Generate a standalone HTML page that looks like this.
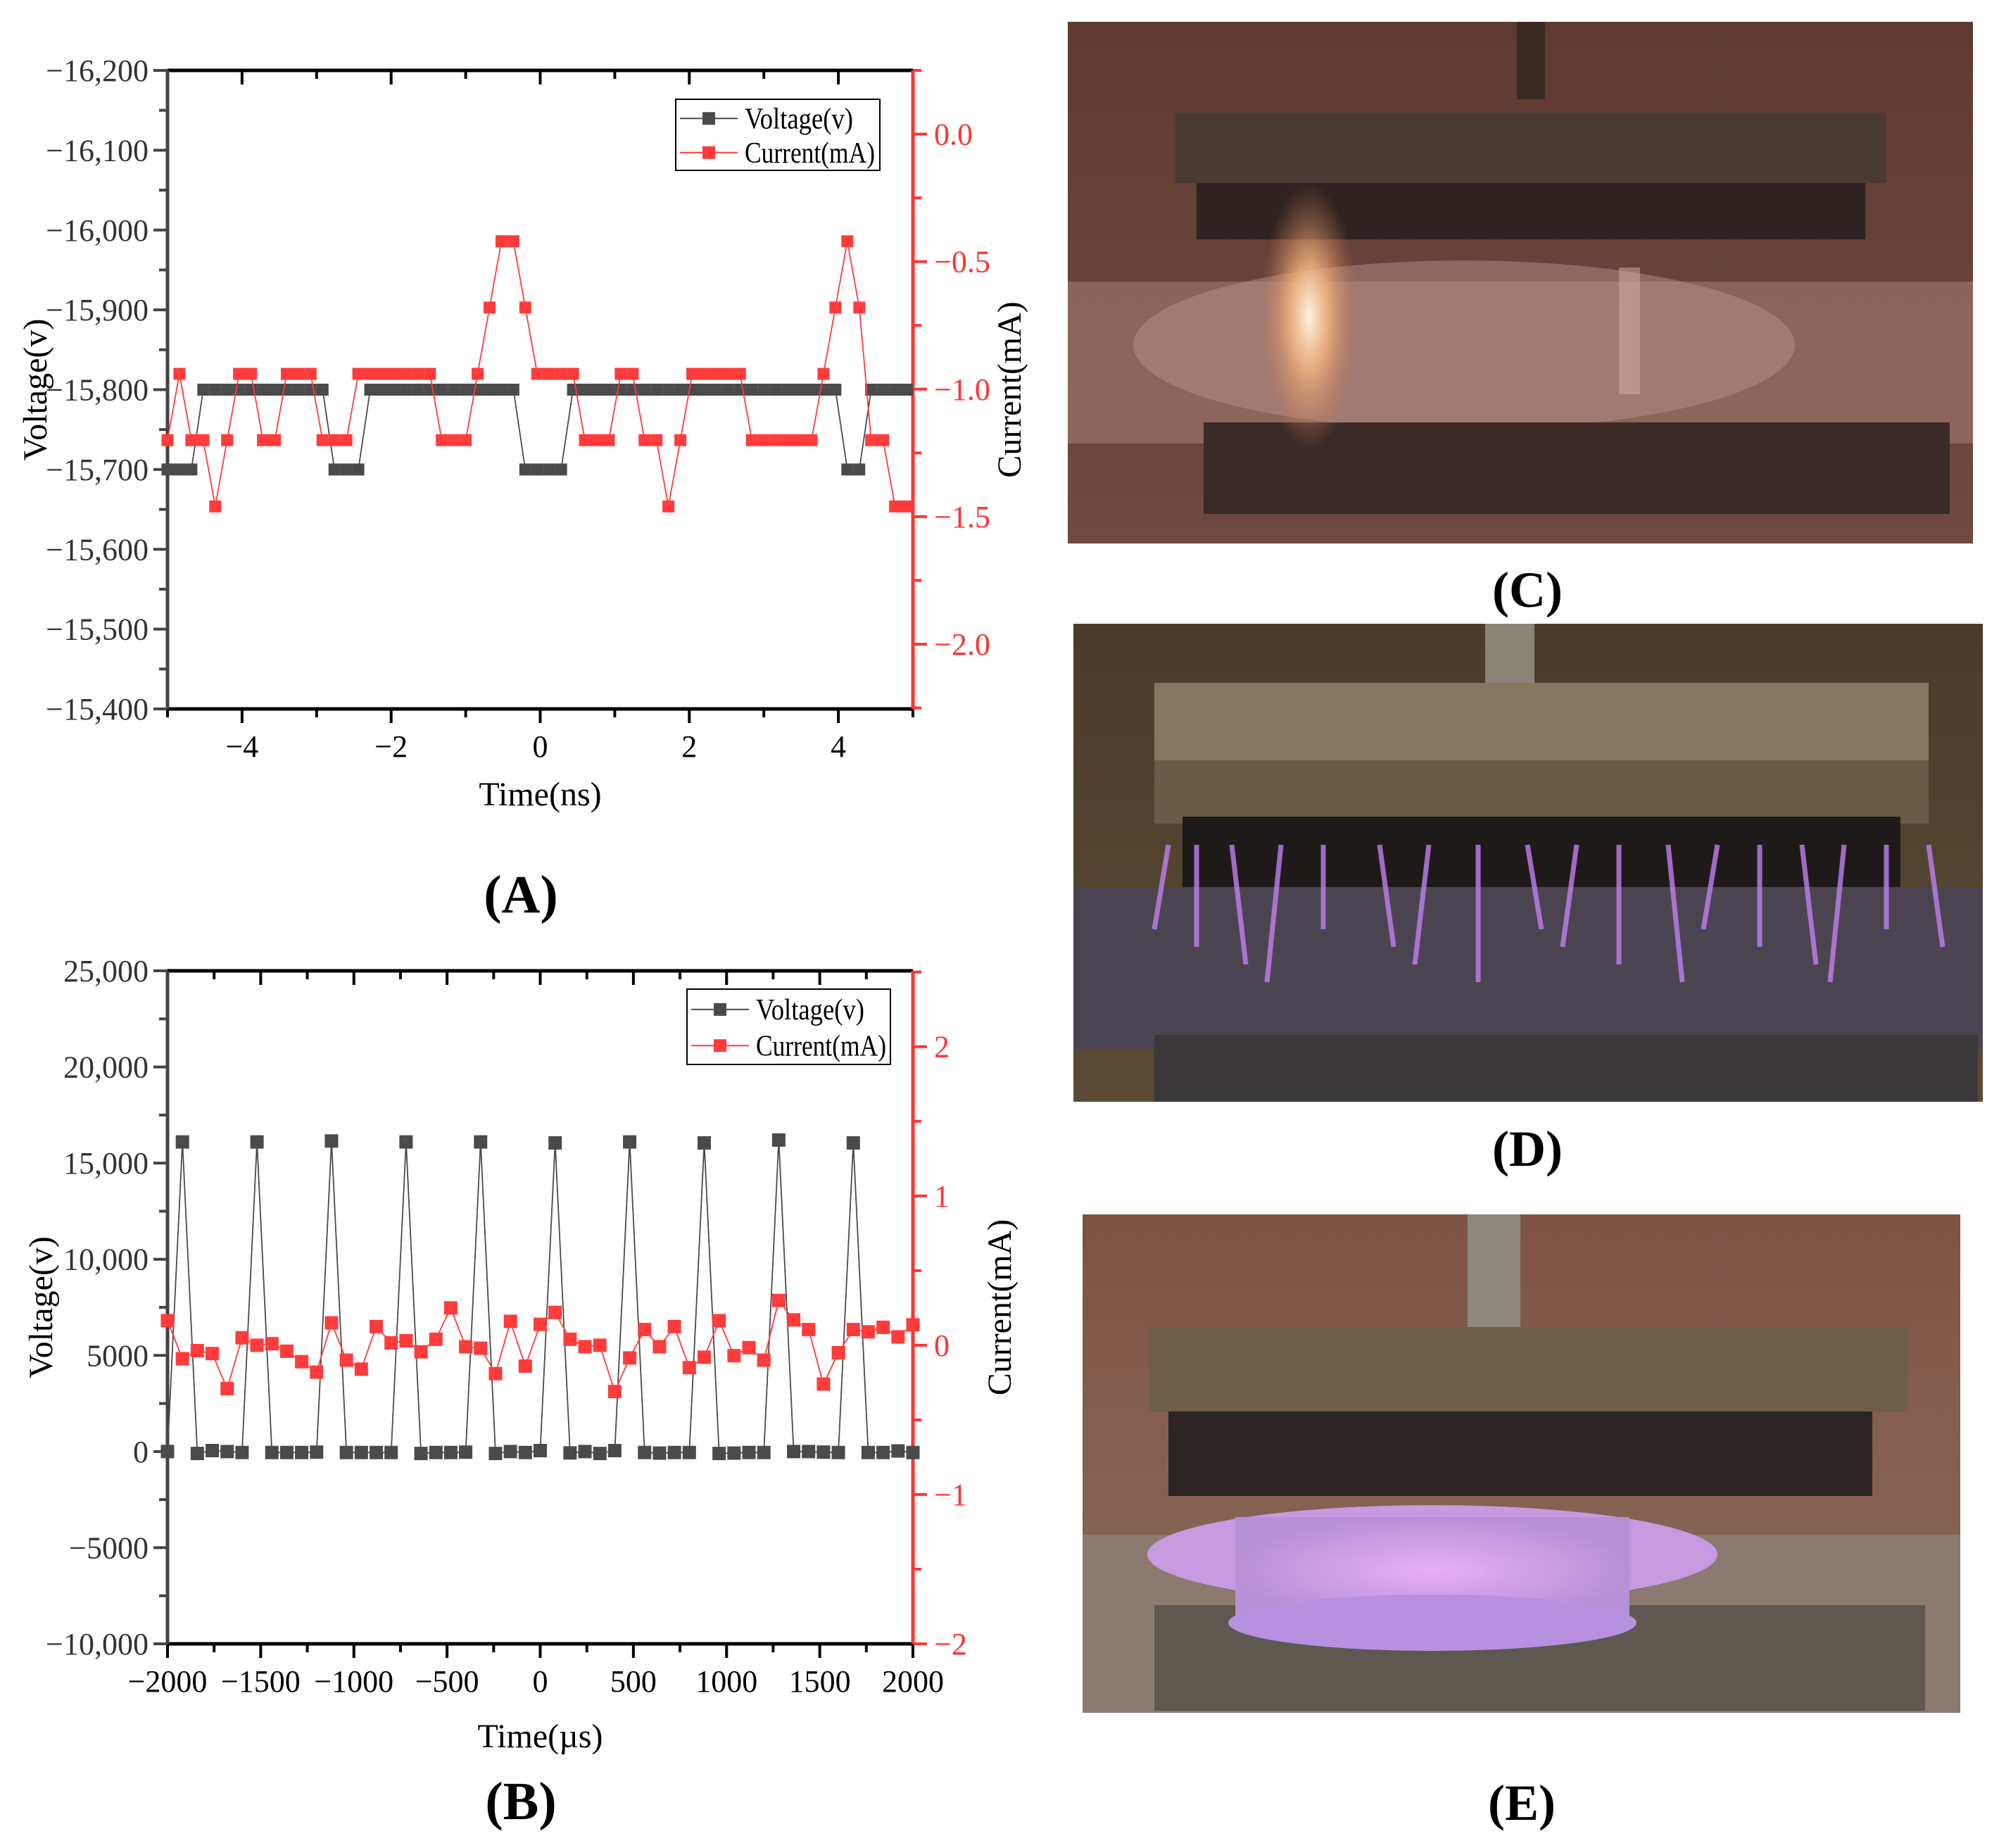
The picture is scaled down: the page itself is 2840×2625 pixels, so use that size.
<!DOCTYPE html>
<html><head><meta charset="utf-8">
<style>
html,body{margin:0;padding:0;background:#fff;}
svg{display:block;}
text{font-family:"Liberation Serif",serif;}
</style></head>
<body>
<svg id="fig" width="2840" height="2625" viewBox="0 0 2840 2625" xmlns="http://www.w3.org/2000/svg">
<defs>
<linearGradient id="gC" x1="0" y1="0" x2="0" y2="1"><stop offset="0" stop-color="#5e3a30"/><stop offset="1" stop-color="#6e4a40"/></linearGradient>
<radialGradient id="glowC" cx="0.5" cy="0.5" r="0.5"><stop offset="0" stop-color="#fff6e0"/><stop offset="0.4" stop-color="#f8b880" stop-opacity="0.8"/><stop offset="1" stop-color="#c07050" stop-opacity="0"/></radialGradient>
<linearGradient id="gD" x1="0" y1="0" x2="0" y2="1"><stop offset="0" stop-color="#4a3c28"/><stop offset="1" stop-color="#5a4a36"/></linearGradient>
<linearGradient id="gE" x1="0" y1="0" x2="0" y2="1"><stop offset="0" stop-color="#7e5444"/><stop offset="1" stop-color="#8a6a5a"/></linearGradient>
<radialGradient id="glowE" cx="0.5" cy="0.5" r="0.5"><stop offset="0" stop-color="#e8b0f8"/><stop offset="1" stop-color="#b890d8"/></radialGradient>
</defs>

<g>
<rect x="1517" y="31" width="1286" height="741" fill="url(#gC)"/>
<rect x="2155" y="31" width="40" height="110" fill="#3a2a26"/>
<rect x="1670" y="160" width="1010" height="100" fill="#4a3a34"/>
<rect x="1700" y="260" width="950" height="80" fill="#2e2220"/>
<rect x="1517" y="400" width="1286" height="230" fill="#9a7468" opacity="0.7"/>
<ellipse cx="2080" cy="490" rx="470" ry="120" fill="#b89088" opacity="0.5"/>
<rect x="1710" y="600" width="1060" height="130" fill="#3a2a28"/>
<ellipse cx="1860" cy="450" rx="70" ry="190" fill="url(#glowC)"/>
<rect x="2300" y="380" width="30" height="180" fill="#d8b0a0" opacity="0.5"/>
</g>
<text x="2170" y="862" font-size="72" font-weight="bold" text-anchor="middle">(C)</text>

<g>
<rect x="1525" y="886" width="1292" height="679" fill="url(#gD)"/>
<rect x="2110" y="886" width="70" height="140" fill="#8a8478"/>
<rect x="1640" y="970" width="1100" height="110" fill="#857660"/>
<rect x="1640" y="1080" width="1100" height="90" fill="#6a5a46"/>
<rect x="1680" y="1160" width="1020" height="100" fill="#1e1a1a"/>
<rect x="1525" y="1260" width="1292" height="230" fill="#4a4450"/>
<rect x="1640" y="1470" width="1170" height="95" fill="#3a3838"/>
<g id="dStreaks" stroke="#c080f0" stroke-width="7" opacity="0.8"></g>
</g>
<text x="2170" y="1656" font-size="72" font-weight="bold" text-anchor="middle">(D)</text>

<g>
<rect x="1538" y="1725" width="1247" height="708" fill="url(#gE)"/>
<rect x="2085" y="1725" width="75" height="170" fill="#8c8880"/>
<rect x="1632" y="1885" width="1078" height="120" fill="#6e5e48"/>
<rect x="1660" y="2005" width="1000" height="120" fill="#2a2424"/>
<rect x="1538" y="2180" width="1247" height="253" fill="#8a7a70"/>
<rect x="1640" y="2280" width="1095" height="150" fill="#5e5850"/>
<ellipse cx="2035" cy="2208" rx="405" ry="70" fill="#c89ae0"/>
<rect x="1755" y="2155" width="560" height="150" fill="url(#glowE)"/>
<ellipse cx="2035" cy="2305" rx="290" ry="40" fill="#b890e0"/>
</g>
<text x="2162" y="2585" font-size="72" font-weight="bold" text-anchor="middle">(E)</text>

<g id="chartA"></g>
<g id="chartB"></g>
</svg>
<script>
// ---------- Chart A data ----------
var aTimeStart = -5, aTimeStep = 0.16;
var aVoltage = [-15700,-15700,-15700,-15800,-15800,-15800,-15800,-15800,-15800,-15800,-15800,-15800,-15800,-15800,-15700,-15700,-15700,-15800,-15800,-15800,-15800,-15800,-15800,-15800,-15800,-15800,-15800,-15800,-15800,-15800,-15700,-15700,-15700,-15700,-15800,-15800,-15800,-15800,-15800,-15800,-15800,-15800,-15800,-15800,-15800,-15800,-15800,-15800,-15800,-15800,-15800,-15800,-15800,-15800,-15800,-15800,-15800,-15700,-15700,-15800,-15800,-15800,-15800];
var aCurrent = [-1.2,-0.94,-1.2,-1.2,-1.46,-1.2,-0.94,-0.94,-1.2,-1.2,-0.94,-0.94,-0.94,-1.2,-1.2,-1.2,-0.94,-0.94,-0.94,-0.94,-0.94,-0.94,-0.94,-1.2,-1.2,-1.2,-0.94,-0.68,-0.42,-0.42,-0.68,-0.94,-0.94,-0.94,-0.94,-1.2,-1.2,-1.2,-0.94,-0.94,-1.2,-1.2,-1.46,-1.2,-0.94,-0.94,-0.94,-0.94,-0.94,-1.2,-1.2,-1.2,-1.2,-1.2,-1.2,-0.94,-0.68,-0.42,-0.68,-1.2,-1.2,-1.46,-1.46];
var aXTicks = [-4,-2,0,2,4];
var aXTickLabels = ["\u22124","\u22122","0","2","4"];
var aYTicks = [-16200,-16100,-16000,-15900,-15800,-15700,-15600,-15500,-15400];
var aYTickLabels = ["\u221216,200","\u221216,100","\u221216,000","\u221215,900","\u221215,800","\u221215,700","\u221215,600","\u221215,500","\u221215,400"];
var aY2Ticks = [0,-0.5,-1,-1.5,-2];
var aY2TickLabels = ["0.0","\u22120.5","\u22121.0","\u22121.5","\u22122.0"];

// ---------- Chart B data ----------
var bTimeStart = -2000, bTimeStep = 80;
var bVoltage = [0,16100,-100,50,0,-50,16100,-50,-50,-50,-30,16150,-50,-50,-50,-50,16100,-100,-50,-50,-30,16100,-100,0,-50,50,16050,-70,0,-100,50,16100,-50,-80,-50,-50,16050,-100,-80,-50,-50,16200,0,0,-30,-50,16050,-50,-50,30,-50];
var bCurrent = [0.165,-0.09,-0.036,-0.056,-0.29,0.05,0.0,0.01,-0.04,-0.11,-0.18,0.15,-0.1,-0.16,0.125,0.016,0.03,-0.044,0.04,0.25,-0.01,-0.02,-0.19,0.16,-0.14,0.14,0.22,0.04,-0.01,0.0,-0.31,-0.085,0.105,-0.01,0.125,-0.15,-0.08,0.165,-0.07,-0.016,-0.1,0.3,0.17,0.105,-0.26,-0.05,0.105,0.09,0.12,0.056,0.137];
var bXTicks = [-2000,-1500,-1000,-500,0,500,1000,1500,2000];
var bXTickLabels = ["\u22122000","\u22121500","\u22121000","\u2212500","0","500","1000","1500","2000"];
var bYTicks = [25000,20000,15000,10000,5000,0,-5000,-10000];
var bYTickLabels = ["25,000","20,000","15,000","10,000","5000","0","\u22125000","\u221210,000"];
var bY2Ticks = [2,1,0,-1,-2];
var bY2TickLabels = ["2","1","0","\u22121","\u22122"];

var NS = "http://www.w3.org/2000/svg";
function mk(parent, tag, attrs, txt){
  var e = document.createElementNS(NS, tag);
  for (var k in attrs) e.setAttribute(k, attrs[k]);
  if (txt !== undefined) e.textContent = txt;
  parent.appendChild(e);
  return e;
}

function drawChart(g, cfg){
  var L=cfg.L,R=cfg.R,T=cfg.T,B=cfg.B;
  function xs(v){return L+(v-cfg.x0)/(cfg.x1-cfg.x0)*(R-L);}
  function ys(v){return T+(v-cfg.y0)/(cfg.y1-cfg.y0)*(B-T);}
  function ys2(v){return T+(v-cfg.r0)/(cfg.r1-cfg.r0)*(B-T);}
  var i, e, v, x, y;
  for (v=cfg.x0; v<=cfg.x1+1e-9; v+=cfg.xMinor){
    x=xs(v);
    var major = Math.abs(v/cfg.xMajor-Math.round(v/cfg.xMajor))<1e-6;
    var len = major?20:12;
    e=mk(g,'line',{x1:x,y1:B,x2:x,y2:B+len,stroke:'#000','stroke-width':4});
    
    
    e=mk(g,'line',{x1:x,y1:T,x2:x,y2:T+len,stroke:'#000','stroke-width':4});
    
    
  }
  for (i=0;i<cfg.xTicks.length;i++){
    e=mk(g,'text',{x:xs(cfg.xTicks[i]),y:B+68,'font-size':44,'text-anchor':'middle',fill:'#000'},cfg.xTickLabels[i]);
    
    
  }
  for (v=Math.min(cfg.y0,cfg.y1); v<=Math.max(cfg.y0,cfg.y1)+1e-9; v+=cfg.yMinor){
    y=ys(v);
    var maj = Math.abs(v/cfg.yMajor-Math.round(v/cfg.yMajor))<1e-6;
    e=mk(g,'line',{x1:L,y1:y,x2:L-(maj?20:12),y2:y,stroke:'#444','stroke-width':4});
    
    
  }
  for (i=0;i<cfg.yTicks.length;i++){
    e=mk(g,'text',{x:L-27,y:ys(cfg.yTicks[i])+15,'font-size':44,'text-anchor':'end',fill:'#333'},cfg.yTickLabels[i]);
    
    
  }
  for (v=Math.min(cfg.r0,cfg.r1); v<=Math.max(cfg.r0,cfg.r1)+1e-9; v+=cfg.rMinor){
    var rr = Math.round(v/cfg.rMinor)*cfg.rMinor;
    if (rr<Math.min(cfg.r0,cfg.r1)-1e-9) continue;
    y=ys2(rr);
    var mj = Math.abs(rr/cfg.rMajor-Math.round(rr/cfg.rMajor))<1e-6;
    e=mk(g,'line',{x1:R,y1:y,x2:R+(mj?20:12),y2:y,stroke:'#ff3333','stroke-width':4});
    
    
  }
  for (i=0;i<cfg.y2Ticks.length;i++){
    e=mk(g,'text',{x:R+30,y:ys2(cfg.y2Ticks[i])+15,'font-size':44,'text-anchor':'start',fill:'#ff3333'},cfg.y2TickLabels[i]);
    
    
  }
  e=mk(g,'line',{x1:L,y1:T,x2:R,y2:T,stroke:'#000','stroke-width':5});
  
  
  e=mk(g,'line',{x1:L,y1:B,x2:R,y2:B,stroke:'#000','stroke-width':5});
  
  
  e=mk(g,'line',{x1:L,y1:T,x2:L,y2:B,stroke:'#444','stroke-width':5});
  
  
  e=mk(g,'line',{x1:R,y1:T,x2:R,y2:B,stroke:'#ff3333','stroke-width':5});
  
  
  function series(vals, scale, color, name){
    var pts=[];
    for (var j=0;j<vals.length;j++){pts.push(xs(cfg.t0+j*cfg.dt).toFixed(1)+','+scale(vals[j]).toFixed(1));}
    var pl=mk(g,'polyline',{points:pts.join(' '),fill:'none',stroke:color,'stroke-width':1.8});
    
    
    var s=cfg.ms;
    for (j=0;j<vals.length;j++){
      var r=mk(g,'rect',{x:xs(cfg.t0+j*cfg.dt)-s/2,y:scale(vals[j])-s/2,width:s,height:s,fill:color});
      
      
    }
  }
  series(cfg.volt, ys, '#4a4a4a', 'voltage');
  series(cfg.curr, ys2, '#ff3b3b', 'current');
  e=mk(g,'text',{x:(L+R)/2,y:cfg.xTitleY,'font-size':48,'text-anchor':'middle',fill:'#000'},cfg.xTitle);
  
  
  e=mk(g,'text',{x:0,y:0,'font-size':48,'text-anchor':'middle',fill:'#000',transform:'translate('+cfg.yTitleX+','+((T+B)/2)+') rotate(-90)'},'Voltage(v)');
  
  
  e=mk(g,'text',{x:0,y:0,'font-size':48,'text-anchor':'middle',fill:'#000',transform:'translate('+cfg.y2TitleX+','+((T+B)/2)+') rotate(-90)'},'Current(mA)');
  
  
  var lg=cfg.leg;
  var box=mk(g,'rect',{x:lg.x,y:lg.y,width:lg.w,height:lg.h,fill:'#fff',stroke:'#000','stroke-width':2});
  
  
  var rows=[['Voltage(v)','#4a4a4a',154],['Current(mA)','#ff3b3b',185]];
  for (i=0;i<2;i++){
    var ry=lg.y+lg.h*(0.27+0.48*i);
    e=mk(g,'line',{x1:lg.x+6,y1:ry,x2:lg.x+88,y2:ry,stroke:rows[i][1],'stroke-width':2});
    
    
    e=mk(g,'rect',{x:lg.x+47-9,y:ry-9,width:18,height:18,fill:rows[i][1]});
    
    
    e=mk(g,'text',{x:lg.x+98,y:ry+14,'font-size':42,fill:'#000',textLength:rows[i][2],lengthAdjust:'spacingAndGlyphs'},rows[i][0]);
    
    
  }
  e=mk(g,'text',{x:cfg.labX,y:cfg.labY,'font-size':76,'font-weight':'bold','text-anchor':'middle',fill:'#000'},cfg.label);
  
  
}

drawChart(document.getElementById('chartA'),{
  L:238,R:1297,T:100,B:1007,x0:-5,x1:5,y0:-16200,y1:-15400,r0:0.25,r1:-2.254,
  xMajor:2,xMinor:1,yMajor:100,yMinor:50,rMajor:0.5,rMinor:0.25,
  xTicks:aXTicks,xTickLabels:aXTickLabels,yTicks:aYTicks,yTickLabels:aYTickLabels,y2Ticks:aY2Ticks,y2TickLabels:aY2TickLabels,
  t0:aTimeStart,dt:aTimeStep,volt:aVoltage,curr:aCurrent,ms:17,
  xTitle:'Time(ns)',xTitleY:1144,yTitleX:66,y2TitleX:1450,
  leg:{x:960,y:141,w:290,h:101},label:'(A)',labX:740,labY:1296
});
drawChart(document.getElementById('chartB'),{
  L:238,R:1297,T:1379,B:2335,x0:-2000,x1:2000,y0:25000,y1:-10000,r0:2.508,r1:-2,
  xMajor:500,xMinor:250,yMajor:5000,yMinor:2500,rMajor:1,rMinor:0.5,
  xTicks:bXTicks,xTickLabels:bXTickLabels,yTicks:bYTicks,yTickLabels:bYTickLabels,y2Ticks:bY2Ticks,y2TickLabels:bY2TickLabels,
  t0:bTimeStart,dt:bTimeStep,volt:bVoltage,curr:bCurrent,ms:19,
  xTitle:'Time(\u00b5s)',xTitleY:2482,yTitleX:74,y2TitleX:1436,
  leg:{x:976,y:1405,w:289,h:107},label:'(B)',labX:740,labY:2584
});

var dg=document.getElementById('dStreaks');
var sx=[1660,1700,1750,1820,1880,1960,2030,2100,2170,2240,2300,2370,2440,2500,2560,2620,2680,2740];
for (var k=0;k<sx.length;k++){
  var ln=mk(dg,'line',{x1:sx[k],y1:1200,x2:sx[k]+((k%3)-1)*20,y2:1320+(k%4)*25});
  
  
}
</script>
</body></html>
